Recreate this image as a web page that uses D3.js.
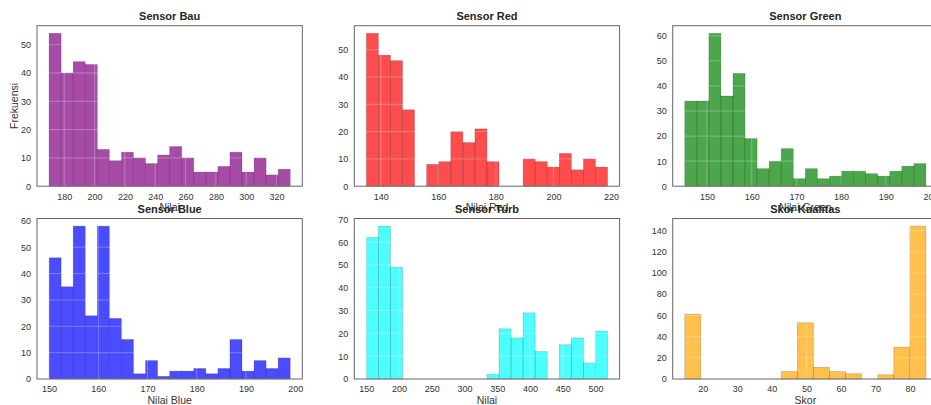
<!DOCTYPE html>
<html>
<head>
<meta charset="utf-8">
<script src="https://cdn.jsdelivr.net/npm/d3@7"></script>
<style>
  body { margin: 0; background: #fff; }
  svg text { font-family: "Liberation Sans", Arial, sans-serif; }
  .tick-label { font-size: 9px; fill: #333; }
  .title { font-size: 11px; font-weight: bold; fill: #262626; }
  .xlabel, .ylabel { font-size: 10.5px; fill: #333; }
</style>
</head>
<body>
<div id="chart"></div>
<script>
// Histogram counts (20 bins each, 15 for skor)
const bauCounts   = [54, 40, 44, 43, 13, 9, 12, 10, 8, 11, 14, 10, 5, 5, 7, 12, 5, 10, 4, 6]
const redCounts   = [56, 48, 46, 28, 0, 8, 9, 20, 16, 21, 9, 0, 0, 10, 9, 7, 12, 6, 10, 7]
const greenCounts = [34, 34, 61, 36, 45, 19, 7, 10, 15, 3, 7, 3, 4, 6, 6, 5, 4, 6, 8, 9]
const blueCounts  = [46, 35, 58, 24, 58, 23, 15, 2, 7, 1, 3, 3, 4, 2, 4, 15, 3, 7, 4, 8]
const turbCounts  = [62, 67, 49, 0, 0, 0, 0, 0, 0, 0, 2, 22, 18, 29, 12, 0, 15, 18, 7, 21]
const skorCounts  = [61, 0, 0, 0, 0, 0, 7, 53, 11, 7, 5, 0, 4, 30, 144]

// value range covered by the bins
const bauRange   = [170, 329]
const redRange   = [135, 218.8]
const greenRange = [145, 199]
const blueRange  = [150, 199]
const turbRange  = [150, 518.4]
const skorRange  = [14.8, 84.6]

// tick labels
const bauXTicks   = [180, 200, 220, 240, 260, 280, 300, 320]
const redXTicks   = [140, 160, 180, 200, 220]
const greenXTicks = [150, 160, 170, 180, 190, 200]
const blueXTicks  = [150, 160, 170, 180, 190, 200]
const turbXTicks  = [150, 200, 250, 300, 350, 400, 450, 500]
const skorXTicks  = [20, 30, 40, 50, 60, 70, 80]

const bauYTicks   = [0, 10, 20, 30, 40, 50]
const redYTicks   = [0, 10, 20, 30, 40, 50]
const greenYTicks = [0, 10, 20, 30, 40, 50, 60]
const blueYTicks  = [0, 10, 20, 30, 40, 50, 60]
const turbYTicks  = [0, 10, 20, 30, 40, 50, 60, 70]
const skorYTicks  = [0, 20, 40, 60, 80, 100, 120, 140]

const titles  = ["Sensor Bau", "Sensor Red", "Sensor Green", "Sensor Blue", "Sensor Turb", "Skor Kualitas"]
const xLabels = ["Nilai", "Nilai Red", "Nilai Green", "Nilai Blue", "Nilai", "Skor"]
const colors  = ["purple", "red", "green", "blue", "cyan", "orange"]

const panels = [
  { counts: bauCounts,   range: bauRange,   xTicks: bauXTicks,   yTicks: bauYTicks },
  { counts: redCounts,   range: redRange,   xTicks: redXTicks,   yTicks: redYTicks },
  { counts: greenCounts, range: greenRange, xTicks: greenXTicks, yTicks: greenYTicks },
  { counts: blueCounts,  range: blueRange,  xTicks: blueXTicks,  yTicks: blueYTicks },
  { counts: turbCounts,  range: turbRange,  xTicks: turbXTicks,  yTicks: turbYTicks },
  { counts: skorCounts,  range: skorRange,  xTicks: skorXTicks,  yTicks: skorYTicks },
]

// layout
const dimensions = {
  width: 931,
  height: 405,
  colLeft: [37, 354.3, 672.7],
  rowTop: [25.7, 218.5],
  plotWidth: 265.3,
  plotHeight: 160.5,
}

const svg = d3.select("#chart")
  .append("svg")
  .attr("width", dimensions.width)
  .attr("height", dimensions.height)

panels.forEach((p, i) => {
  const col = i % 3
  const row = Math.floor(i / 3)
  const w = dimensions.plotWidth
  const h = dimensions.plotHeight

  const bounds = svg.append("g")
    .attr("transform", `translate(${dimensions.colLeft[col]}, ${dimensions.rowTop[row]})`)

  // bins
  const n = p.counts.length
  const binW = (p.range[1] - p.range[0]) / n
  const bins = p.counts.map((c, k) => ({
    x0: p.range[0] + k * binW,
    x1: p.range[0] + (k + 1) * binW,
    count: c
  }))

  // scales (matplotlib style 5% x margin, 5% headroom)
  const pad = (p.range[1] - p.range[0]) * 0.05
  const xScale = d3.scaleLinear()
    .domain([p.range[0] - pad, p.range[1] + pad])
    .range([0, w])
  const yScale = d3.scaleLinear()
    .domain([0, d3.max(p.counts) * 1.05])
    .range([h, 0])

  // bars
  bounds.selectAll("rect.bar")
    .data(bins.filter(d => d.count > 0))
    .join("rect")
      .attr("class", "bar")
      .attr("x", d => xScale(d.x0))
      .attr("y", d => yScale(d.count))
      .attr("width", d => xScale(d.x1) - xScale(d.x0))
      .attr("height", d => yScale(0) - yScale(d.count))
      .attr("fill", colors[i])
      .attr("fill-opacity", 0.7)
      .attr("stroke", "#000")
      .attr("stroke-opacity", 0.22)
      .attr("stroke-width", 0.7)

  // light grid drawn over bars
  const grid = bounds.append("g")
  grid.selectAll("line.gy")
    .data(p.yTicks)
    .join("line")
      .attr("x1", 0).attr("x2", w)
      .attr("y1", d => yScale(d)).attr("y2", d => yScale(d))
      .attr("stroke", "#fff").attr("stroke-opacity", 0.35).attr("stroke-width", 0.8)
  grid.selectAll("line.gx")
    .data(p.xTicks.filter(t => xScale(t) <= w))
    .join("line")
      .attr("x1", d => xScale(d)).attr("x2", d => xScale(d))
      .attr("y1", 0).attr("y2", h)
      .attr("stroke", "#fff").attr("stroke-opacity", 0.35).attr("stroke-width", 0.8)

  // frame
  bounds.append("rect")
    .attr("width", w)
    .attr("height", h)
    .attr("fill", "none")
    .attr("stroke", "#666")
    .attr("stroke-width", 1)

  // axes (labels only, no tick marks)
  const xAxis = d3.axisBottom(xScale).tickValues(p.xTicks).tickSize(0).tickPadding(7)
  const yAxis = d3.axisLeft(yScale).tickValues(p.yTicks).tickSize(0).tickPadding(6)

  const gx = bounds.append("g").attr("transform", `translate(0, ${h})`).call(xAxis)
  const gy = bounds.append("g").call(yAxis)
  ;[gx, gy].forEach(g => {
    g.select(".domain").remove()
    g.selectAll("text").attr("class", "tick-label").attr("font-family", null).attr("font-size", null)
  })

  // x label
  bounds.append("text")
    .attr("class", "xlabel")
    .attr("x", w / 2)
    .attr("y", h + 24.5)
    .attr("text-anchor", "middle")
    .text(xLabels[i])

  // title
  bounds.append("text")
    .attr("class", "title")
    .attr("x", w / 2)
    .attr("y", -5.5)
    .attr("text-anchor", "middle")
    .text(titles[i])

  // y label only on first panel
  if (i === 0) {
    bounds.append("text")
      .attr("class", "ylabel")
      .attr("transform", `translate(-19, ${h / 2}) rotate(-90)`)
      .attr("text-anchor", "middle")
      .text("Frekuensi")
  }
})
</script>
</body>
</html>
